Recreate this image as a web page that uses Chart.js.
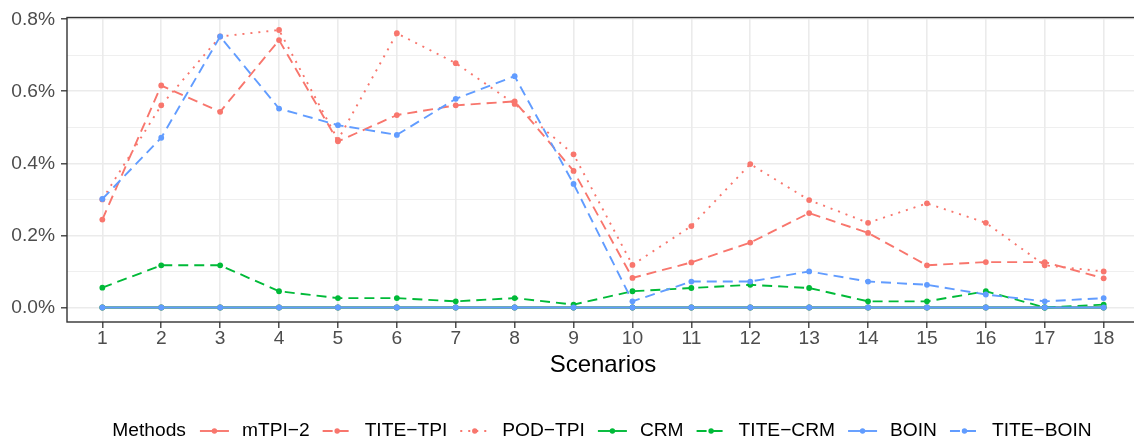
<!DOCTYPE html>
<html>
<head>
<meta charset="utf-8">
<script src="https://cdn.jsdelivr.net/npm/chart.js@4/dist/chart.umd.min.js"></script>
<style>
  html, body { margin: 0; padding: 0; background: #fff; overflow: hidden; width: 1134px; height: 442px; }
  #wrap { position: absolute; left: 0; top: 0; width: 1150px; height: 442px; }
</style>
</head>
<body>
<div id="wrap"><canvas id="c" width="1150" height="442"></canvas></div>
<script>
// ---- data ----
const scenarios = [1,2,3,4,5,6,7,8,9,10,11,12,13,14,15,16,17,18];
const methods = ['mTPI\u22122','TITE\u2212TPI','POD\u2212TPI','CRM','TITE\u2212CRM','BOIN','TITE\u2212BOIN'];
const mtpi2   = [0,0,0,0,0,0,0,0,0,0,0,0,0,0,0,0,0,0];
const titeTpi = [0.244,0.616,0.543,0.742,0.461,0.534,0.561,0.572,0.379,0.082,0.125,0.180,0.262,0.207,0.117,0.126,0.126,0.081];
const podTpi  = [0.300,0.561,0.752,0.770,0.465,0.761,0.678,0.565,0.425,0.118,0.226,0.398,0.298,0.235,0.289,0.235,0.117,0.100];
const crm     = [0,0,0,0,0,0,0,0,0,0,0,0,0,0,0,0,0,0];
const titeCrm = [0.055,0.117,0.117,0.045,0.026,0.026,0.017,0.026,0.008,0.045,0.054,0.063,0.054,0.017,0.017,0.045,0.000,0.008];
const boin    = [0,0,0,0,0,0,0,0,0,0,0,0,0,0,0,0,0,0];
const titeBoin= [0.301,0.471,0.752,0.552,0.506,0.479,0.579,0.642,0.343,0.017,0.072,0.072,0.100,0.072,0.063,0.036,0.017,0.026];
const yMajorTicks = [0, 0.2, 0.4, 0.6, 0.8];
const yMinorTicks = [0.1, 0.3, 0.5, 0.7];
const yTickLabels = ['0.0%','0.2%','0.4%','0.6%','0.8%'];
const xTitle = 'Scenarios';
const legendTitle = 'Methods';

// ---- styles ----
const RED = '#F8766D', GREEN = '#00BA38', BLUE = '#619CFF';
const DASHED = [10, 6], DOTTED = [2, 6], SOLID = [];
const seriesValues = [mtpi2, titeTpi, podTpi, crm, titeCrm, boin, titeBoin];
const seriesColors = [RED, RED, RED, GREEN, GREEN, BLUE, BLUE];
const seriesDash = [SOLID, DASHED, DOTTED, SOLID, DASHED, SOLID, DASHED];
const FONT = '"Liberation Sans", Arimo, Arial, sans-serif';

const datasets = methods.map((m, i) => ({
  label: m,
  data: seriesValues[i].map((v, j) => ({ x: scenarios[j], y: v })),
  borderColor: seriesColors[i],
  backgroundColor: seriesColors[i],
  borderDash: seriesDash[i],
  borderWidth: 1.9,
  borderCapStyle: 'butt',
  pointRadius: 2.9,
  pointBorderWidth: 0,
  pointBackgroundColor: seriesColors[i],
  tension: 0,
  fill: false,
  order: methods.length - i
}));

const panelBorder = {
  id: 'panelBorder',
  afterDatasetsDraw(chart) {
    const { ctx, chartArea: a } = chart;
    ctx.save();
    ctx.strokeStyle = '#333333';
    ctx.lineWidth = 1.4;
    ctx.setLineDash([]);
    ctx.strokeRect(a.left, a.top, a.right - a.left, a.bottom - a.top);
    ctx.restore();
  }
};

const ggLegend = {
  id: 'ggLegend',
  afterDraw(chart) {
    const ctx = chart.ctx;
    ctx.save();
    ctx.font = '19.2px ' + FONT;
    ctx.textBaseline = 'middle';
    const y = 431, keyW = 29, gapKT = 13, gapTK = 13, gapTitle = 14;
    const ds = chart.data.datasets;
    let total = ctx.measureText(legendTitle).width + gapTitle;
    ds.forEach((d, i) => {
      total += keyW + gapKT + ctx.measureText(d.label).width + (i < ds.length - 1 ? gapTK : 0);
    });
    let x = 602 - total / 2;
    ctx.fillStyle = '#000';
    ctx.fillText(legendTitle, x, y);
    x += ctx.measureText(legendTitle).width + gapTitle;
    ds.forEach((d, i) => {
      ctx.strokeStyle = d.borderColor;
      ctx.lineWidth = d.borderWidth;
      ctx.setLineDash(d.borderDash);
      ctx.beginPath();
      ctx.moveTo(x, y);
      ctx.lineTo(x + keyW, y);
      ctx.stroke();
      ctx.setLineDash([]);
      ctx.fillStyle = d.borderColor;
      ctx.beginPath();
      ctx.arc(x + keyW / 2, y, 2.7, 0, Math.PI * 2);
      ctx.fill();
      x += keyW + gapKT;
      ctx.fillStyle = '#000';
      ctx.fillText(d.label, x, y);
      x += ctx.measureText(d.label).width + gapTK;
    });
    ctx.restore();
  }
};

const isMajor = v => yMajorTicks.some(t => Math.abs(t - v) < 1e-9);

new Chart(document.getElementById('c'), {
  type: 'line',
  data: { datasets },
  plugins: [panelBorder, ggLegend],
  options: {
    responsive: false,
    animation: false,
    devicePixelRatio: 1,
    layout: { padding: { left: 0, top: 14, right: 11, bottom: 60 } },
    plugins: { legend: { display: false }, tooltip: { enabled: false }, title: { display: false } },
    scales: {
      x: {
        type: 'linear',
        min: 0.4,
        max: 18.6,
        afterBuildTicks: s => { s.ticks = scenarios.map(v => ({ value: v })); },
        afterFit: s => { s.height = 60; },
        ticks: {
          autoSkip: false,
          maxRotation: 0,
          padding: -1,
          color: '#4D4D4D',
          font: { family: FONT, size: 19.2 },
          callback: v => String(v)
        },
        grid: {
          color: '#EBEBEB',
          lineWidth: 1.6,
          tickLength: 6,
          tickColor: '#333333',
          tickWidth: 1.3
        },
        border: { display: false },
        title: {
          display: true,
          text: xTitle,
          color: '#000',
          font: { family: FONT, size: 24 },
          padding: { top: 0, bottom: 2.6 }
        }
      },
      y: {
        type: 'linear',
        min: -0.0403,
        max: 0.8047,
        afterBuildTicks: s => { s.ticks = yMajorTicks.concat(yMinorTicks).sort((a,b)=>a-b).map(v => ({ value: v })); },
        afterFit: s => { s.width = 67; },
        ticks: {
          autoSkip: false,
          padding: 6,
          color: '#4D4D4D',
          font: { family: FONT, size: 19.2 },
          callback: v => {
            const k = yMajorTicks.findIndex(t => Math.abs(t - v) < 1e-9);
            return k >= 0 ? yTickLabels[k] : '';
          }
        },
        grid: {
          color: '#EBEBEB',
          lineWidth: c => isMajor(c.tick.value) ? 1.6 : 0.8,
          tickLength: 6,
          tickColor: c => isMajor(c.tick.value) ? '#333333' : 'rgba(0,0,0,0)',
          tickWidth: 1.3
        },
        border: { display: false }
      }
    }
  }
});
</script>
</body>
</html>
